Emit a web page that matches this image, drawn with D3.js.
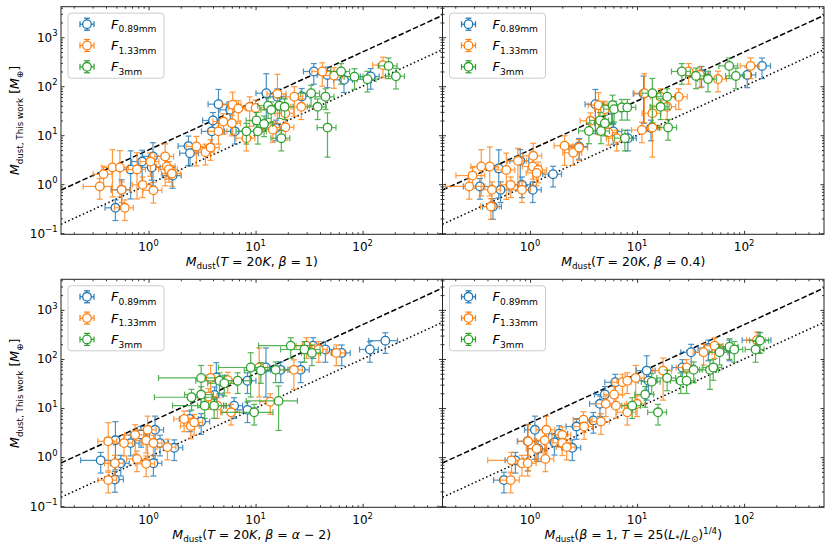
<!DOCTYPE html>
<html><head><meta charset="utf-8">
<script src="https://cdn.jsdelivr.net/npm/d3@7"></script>
<style>body{margin:0;background:#fff}svg{display:block}text{font-family:"DejaVu Sans",sans-serif;fill:#000}</style>
</head><body><svg id="c" width="830" height="551"></svg>
<script>
// ---- data: [x, y, xErrFrac?, yErrFrac?] ----
const seriesLabels = ["0.89mm", "1.33mm", "3mm"];
const seriesColors = ["#1f77b4", "#ff7f0e", "#2ca02c"];
const xDomain = [0.152, 558];
const yDomain = [0.095, 4200];
const xMajorTicks = [1, 10, 100];
const yMajorTicks = [0.1, 1, 10, 100, 1000];

const p1Blue = [[0.49,0.33],[0.56,0.77,0.2,0.6],[0.68,2.0,0.2,1.4],[0.87,2.9,0.2,0.7],[1.1,3.7,0.2,0.9],[1.07,2.2],[1.68,1.5],[2.36,6.0,0.2,0.6],[2.44,4.3],[3.9,12],[4.0,20],[4.5,43,0.2,1.0],[5.8,33],[6.4,12],[12.6,72,0.2,1.5],[16,61],[15.5,14],[27,62],[35,200],[47,170],[67,135],[119,158]];
const p1Orange = [[0.35,0.9,0.3],[0.38,1.6],[0.46,2.2,0.2,1.3],[0.54,2.2,0.2,1.2],[0.6,0.33],[0.56,0.77],[0.78,2.0,0.2,1.2],[0.88,0.97],[1.04,2.9,0.2,0.5],[1.11,0.75],[1.43,3.7,0.2,0.8],[1.48,2.3],[1.55,2.0],[1.65,1.65],[2.8,5.9,0.2,0.6],[3.4,4.5],[3.8,5.6],[4.5,12],[5.0,19],[6.0,17.6],[6.1,42,0.2,0.8],[6.9,35],[8.8,38,0.2,0.6],[10,36],[8.2,8.7],[16,70,0.2,1.5],[19,14.5],[19,28],[23,61,0.2,0.6],[26.7,38],[14.5,13],[42,200,0.2,0.5],[54,165],[155,270]];
const p1Green = [[8.2,12],[10.2,20],[10.5,12],[12,17],[13.1,40],[14,33],[16.7,40],[18.7,38],[17.4,8.7],[33,72],[38,38],[45,61],[47,14.3,0.2,1.0],[63,200],[84,157],[111,139],[175,260],[205,160]];

const p2Blue = [[0.34,0.9,0.3],[0.45,0.35],[0.53,0.77],[0.51,2.1,0.2,1.4],[0.84,0.97],[0.81,3.0,0.2,0.7],[1.06,0.77],[1.64,1.6],[2.87,5.9],[4.08,43,0.2,1.0],[5.8,33],[6.0,11.9],[8.2,8.7],[13.5,14],[11.5,70,0.2,1.3],[40,175],[107,170],[147,260]];
const p2Orange = [[0.27,0.9,0.4],[0.29,1.5,0.3],[0.35,2.3,0.2,1.2],[0.42,2.3,0.2,1.5],[0.44,0.77],[0.43,0.35],[0.6,1.96,0.2,1.2],[0.66,0.97],[0.77,3.0,0.2,0.8],[0.84,0.77],[1.07,3.8,0.2,0.8],[1.06,2.3],[1.19,1.96],[1.15,1.7],[2.1,6.1,0.2,0.6],[2.53,4.4],[2.87,5.6],[3.67,19.7],[5.4,11.4],[4.37,41,0.2,0.8],[5.0,34],[6.45,8.7],[11.1,12.8],[11.7,72,0.2,1.5],[13.9,14.3,0.2,0.8],[13.9,28],[16.6,61],[19.1,38],[24.5,61],[30.3,200],[38.7,170],[57,140],[115,260]];
const p2Green = [[3.55,12.2],[4.5,20],[4.6,12.2],[5.0,17.6],[5.9,41,0.2,0.6],[6.1,34],[7.2,37],[8.1,37],[7.7,8.7],[13.9,72,0.2,1.0],[16.6,38],[19.1,61],[19.5,14.4],[26.2,200],[35.5,162],[46,140],[72.6,260],[83.8,162]];

const p3Blue = [[0.357,0.86,0.35],[0.485,0.35],[0.49,2.2,0.2,1.4],[0.55,0.75],[0.68,1.93],[0.85,2.9],[1.11,0.75],[1.15,3.6,0.2,0.9],[1.28,1.93],[1.74,1.55],[2.43,6.0],[3.1,5.3],[4.14,18.5],[4.3,42,0.2,1.0],[6.3,11.2],[8.4,9.2],[8.4,36],[12.5,67,0.2,1.5],[17.2,60],[26.4,60],[34.5,187],[44.9,156],[63.8,133],[117,156],[163,236,0.3]];
const p3Orange = [[0.42,2.1,0.2,1.4],[0.42,0.34],[0.485,0.75],[0.59,1.93],[0.75,2.85,0.2,0.6],[0.78,0.92],[0.95,2.2],[0.98,3.6,0.2,0.9],[0.95,0.73],[1.11,1.93],[1.5,1.6],[2.15,6.0],[2.48,4.3],[2.67,5.1],[3.8,41,0.2,0.8],[3.64,17.2],[4.4,11.2],[5.5,37],[5.9,8.2],[10.8,67,0.2,1.5],[13.7,13.5],[22.8,60,0.2,0.6],[29.9,187],[38.9,156],[56.8,133]];
const p3Green = [[2.52,16.6,0.55],[3.1,18.8,0.3],[3.1,41,0.6,0.8],[3.35,11.2,0.5],[4.1,11.2,0.3],[4.6,36,0.4],[5.1,32,0.3],[6.8,36,0.3],[9.0,67,0.5,1.0],[11.2,58,0.3],[15.4,60,0.3],[9.7,8.2,0.5],[16.4,14,0.5,1.0],[21.3,187,0.5],[28.6,156,0.4],[33.6,133]];

const p4Blue = [[0.57,0.34],[0.73,0.86],[1.11,3.6,0.2,0.9],[1.19,1.48],[0.95,2.1,0.2,1.2],[1.69,2.0],[1.87,3.0],[2.48,1.55],[2.71,4.2],[3.9,5.6],[4.5,12.2],[5.0,18.9],[6.25,33.6],[12.3,58,0.2,1.0],[12.8,36],[26.5,67],[32,137],[46.4,167],[73,167],[137,242,0.3]];
const p4Orange = [[0.67,0.86,0.4],[0.66,0.34],[0.84,0.75],[0.95,0.75],[0.96,2.1,0.2,1.2],[1.15,1.48],[1.37,2.2],[1.42,3.6,0.2,0.9],[1.39,0.92],[2.0,2.85],[2.0,1.96],[2.2,1.6],[3.16,5.8],[3.2,4.2],[4.6,5.3],[5.1,12.2],[6.1,18.9],[6.35,11.2],[7.3,33.6],[8.1,36],[9.7,41,0.2,0.8],[8.1,8.2],[10,12.2],[17.5,58,0.2,0.8],[29,67],[41.8,137],[53,187],[132,242]];
const p4Green = [[9.0,11.2],[11.9,18.9],[13.7,34.5],[19.1,41],[25.6,36],[29,36],[33.8,60],[48,60,0.2,0.6],[51.5,67],[15.7,8.2],[59,137],[73,178],[81,156],[128,156],[141,237]];

const dashedFactor = 5;   // y = 5x
const dottedFactor = 1;   // y = x

// ---- labels ----
const I = t => ({t, i:true}), R = t => ({t}), SUB = t => ({t, sub:true}), SUP = t => ({t, sup:true});
const xLabels = [
  [I("M"), SUB("dust"), R("("), I("T"), R(" = 20"), I("K"), R(", "), I("β"), R(" = 1)")],
  [I("M"), SUB("dust"), R("("), I("T"), R(" = 20"), I("K"), R(", "), I("β"), R(" = 0.4)")],
  [I("M"), SUB("dust"), R("("), I("T"), R(" = 20"), I("K"), R(", "), I("β"), R(" = "), I("α"), R(" − 2)")],
  [I("M"), SUB("dust"), R("("), I("β"), R(" = 1, "), I("T"), R(" = 25("), I("L"), SUB("*"), R("/"), I("L"), SUB("⊙"), R(")"), SUP("1/4"), R(")")]
];
const yLabel = [I("M"), SUB("dust, This work"), R(" ["), I("M"), SUB("⊕"), R("]")];

const panels = [
  {x:61,   y:6.7,   w:381.5, h:227.6, ylab:true,  data:[p1Blue,p1Orange,p1Green]},
  {x:442.5,y:6.7,   w:381.5, h:227.6, ylab:false, data:[p2Blue,p2Orange,p2Green]},
  {x:61,   y:279.3, w:381.5, h:228,   ylab:true,  data:[p3Blue,p3Orange,p3Green]},
  {x:442.5,y:279.3, w:381.5, h:228,   ylab:false, data:[p4Blue,p4Orange,p4Green]}
];

const svg = d3.select("#c");

function richText(g, parts, fs){
  const t = g.append("text").attr("font-size", fs);
  let off = 0;
  parts.forEach(p => {
    const target = p.sub ? fs*0.28 : p.sup ? -fs*0.42 : 0;
    const ts = t.append("tspan").text(p.t).attr("dy", target - off);
    if (p.sub || p.sup) ts.attr("font-size", fs*0.7);
    if (p.i) ts.attr("font-style", "italic");
    off = target;
  });
  return t;
}
function powLabel(g, v, fs){
  const e = Math.round(Math.log10(v));
  return richText(g, [R("10"), SUP(e < 0 ? "−" + (-e) : String(e))], fs);
}
function minorTicks(dom){
  const out = [];
  for (let k = -3; k <= 4; k++) for (let m = 2; m <= 9; m++) {
    const v = m*Math.pow(10,k);
    if (v > dom[0] && v < dom[1]) out.push(v);
  }
  return out;
}
const xMinor = minorTicks(xDomain), yMinor = minorTicks(yDomain);
const yMajVis = yMajorTicks.filter(v => v >= yDomain[0] && v <= yDomain[1]);

function styleAxis(sel){
  sel.select(".domain").remove();
  sel.selectAll(".tick line").attr("stroke", "#000").attr("stroke-width", 0.8);
  sel.selectAll(".tick text").remove();
}

panels.forEach((p, pi) => {
  const xs = d3.scaleLog().domain(xDomain).range([p.x, p.x + p.w]);
  const ys = d3.scaleLog().domain(yDomain).range([p.y + p.h, p.y]);
  const g = svg.append("g");
  const clipId = "clip" + pi;
  svg.append("clipPath").attr("id", clipId).append("rect")
    .attr("x", p.x).attr("y", p.y).attr("width", p.w).attr("height", p.h);
  const plot = g.append("g").attr("clip-path", `url(#${clipId})`);

  // reference lines
  const line = d3.line().x(d => xs(d[0])).y(d => ys(d[1]));
  const xs2 = [xDomain[0], xDomain[1]];
  plot.append("path").attr("d", line(xs2.map(x => [x, x*dashedFactor])))
    .attr("fill", "none").attr("stroke", "#000").attr("stroke-width", 1.5).attr("stroke-dasharray", "5.5,2.4");
  plot.append("path").attr("d", line(xs2.map(x => [x, x*dottedFactor])))
    .attr("fill", "none").attr("stroke", "#000").attr("stroke-width", 1.5).attr("stroke-dasharray", "1.5,2.5");

  // series
  p.data.forEach((data, si) => {
    const col = seriesColors[si];
    const sg = plot.append("g");
    const pts = data.map(d => {
      const x = d[0], y = d[1], ex = d[2] ?? 0.2, ey = d[3] ?? 0.45;
      return {x, y, xl: x*Math.max(1-ex,0.25), xh: x*(1+ex), yl: y*Math.max(1-ey,0.25), yh: y*(1+ey)};
    });
    const eb = sg.append("g").attr("stroke", col).attr("stroke-width", 1.2).attr("opacity", 0.8);
    const cap = 3;
    pts.forEach(d => {
      const cx = xs(d.x), cy = ys(d.y);
      const x1 = xs(d.xl), x2 = xs(d.xh), y1 = ys(d.yl), y2 = ys(d.yh);
      eb.append("line").attr("x1", x1).attr("x2", x2).attr("y1", cy).attr("y2", cy);
      eb.append("line").attr("x1", cx).attr("x2", cx).attr("y1", y1).attr("y2", y2);
      eb.append("line").attr("x1", x1).attr("x2", x1).attr("y1", cy-cap).attr("y2", cy+cap);
      eb.append("line").attr("x1", x2).attr("x2", x2).attr("y1", cy-cap).attr("y2", cy+cap);
      eb.append("line").attr("x1", cx-cap).attr("x2", cx+cap).attr("y1", y1).attr("y2", y1);
      eb.append("line").attr("x1", cx-cap).attr("x2", cx+cap).attr("y1", y2).attr("y2", y2);
    });
    sg.selectAll("circle").data(pts).join("circle")
      .attr("cx", d => xs(d.x)).attr("cy", d => ys(d.y)).attr("r", 4.3)
      .attr("fill", "#fff").attr("stroke", col).attr("stroke-width", 1.3);
  });

  // axes (ticks inward on all four sides)
  const ax = g.append("g");
  const bottom = ax.append("g").attr("transform", `translate(0,${p.y+p.h})`);
  bottom.append("g").call(d3.axisBottom(xs).tickValues(xMajorTicks).tickSize(-3.5).tickFormat("")).call(styleAxis);
  bottom.append("g").call(d3.axisBottom(xs).tickValues(xMinor).tickSize(-2).tickFormat("")).call(styleAxis);
  const top = ax.append("g").attr("transform", `translate(0,${p.y})`);
  top.append("g").call(d3.axisTop(xs).tickValues(xMajorTicks).tickSize(-3.5).tickFormat("")).call(styleAxis);
  top.append("g").call(d3.axisTop(xs).tickValues(xMinor).tickSize(-2).tickFormat("")).call(styleAxis);
  const left = ax.append("g").attr("transform", `translate(${p.x},0)`);
  left.append("g").call(d3.axisLeft(ys).tickValues(yMajVis).tickSize(-3.5).tickFormat("")).call(styleAxis);
  left.append("g").call(d3.axisLeft(ys).tickValues(yMinor).tickSize(-2).tickFormat("")).call(styleAxis);
  const right = ax.append("g").attr("transform", `translate(${p.x+p.w},0)`);
  right.append("g").call(d3.axisRight(ys).tickValues(yMajVis).tickSize(-3.5).tickFormat("")).call(styleAxis);
  right.append("g").call(d3.axisRight(ys).tickValues(yMinor).tickSize(-2).tickFormat("")).call(styleAxis);

  g.append("rect").attr("x", p.x).attr("y", p.y).attr("width", p.w).attr("height", p.h)
    .attr("fill", "none").attr("stroke", "#222").attr("stroke-width", 1);

  // tick labels
  xMajorTicks.forEach(v => {
    powLabel(g, v, 12).attr("x", xs(v)).attr("y", p.y + p.h + 16.5).attr("text-anchor", "middle");
  });
  if (p.ylab) {
    yMajVis.forEach(v => {
      powLabel(g, v, 12).attr("x", p.x - 3.5).attr("y", ys(v) + 4.3).attr("text-anchor", "end");
    });
    richText(g, yLabel, 12.5).attr("text-anchor", "middle")
      .attr("transform", `translate(19,${p.y + p.h/2}) rotate(-90)`);
  }
  richText(g, xLabels[pi], 12.5).attr("x", p.x + p.w/2).attr("y", p.y + p.h + 31.5).attr("text-anchor", "middle");

  // legend
  const lg = g.append("g").attr("transform", `translate(${p.x + 7},${p.y + 6.5})`);
  lg.append("rect").attr("width", 96).attr("height", 65).attr("rx", 3)
    .attr("fill", "#fff").attr("fill-opacity", 0.8).attr("stroke", "#ccc").attr("stroke-width", 1);
  seriesLabels.forEach((lab, si) => {
    const cy = 11 + si*21.3, cx = 19, col = seriesColors[si];
    const h = lg.append("g").attr("stroke", col).attr("stroke-width", 1.2);
    h.append("line").attr("x1", cx-7).attr("x2", cx+7).attr("y1", cy).attr("y2", cy);
    h.append("line").attr("x1", cx).attr("x2", cx).attr("y1", cy-6).attr("y2", cy+6);
    h.append("line").attr("x1", cx-7).attr("x2", cx-7).attr("y1", cy-3).attr("y2", cy+3);
    h.append("line").attr("x1", cx+7).attr("x2", cx+7).attr("y1", cy-3).attr("y2", cy+3);
    h.append("line").attr("x1", cx-3).attr("x2", cx+3).attr("y1", cy-6).attr("y2", cy-6);
    h.append("line").attr("x1", cx-3).attr("x2", cx+3).attr("y1", cy+6).attr("y2", cy+6);
    h.append("circle").attr("cx", cx).attr("cy", cy).attr("r", 4.3).attr("fill", "#fff").attr("stroke-width", 1.3);
    richText(lg, [I("F"), SUB(lab)], 13).attr("x", 43).attr("y", cy + 4.5);
  });
});
</script></body></html>
